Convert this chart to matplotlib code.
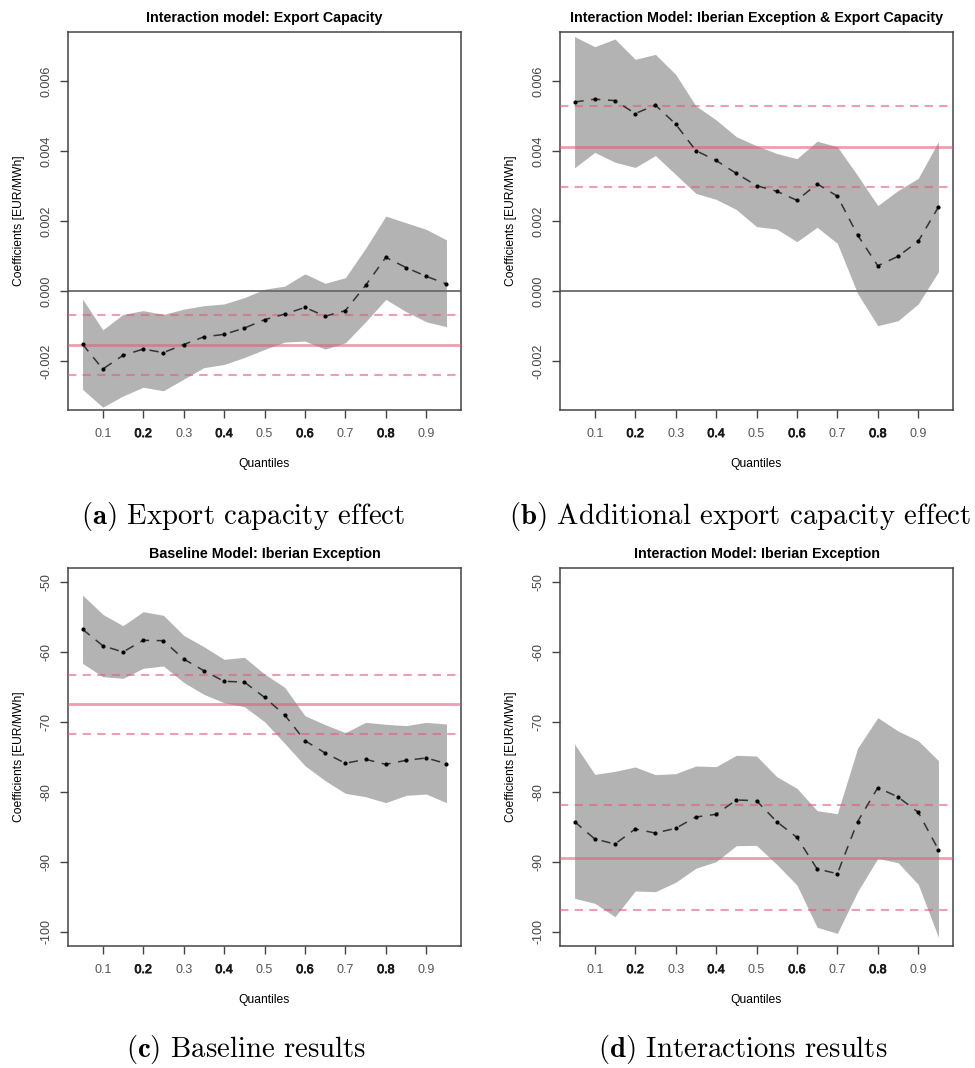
import numpy as np
import matplotlib
matplotlib.use("Agg")
import matplotlib.pyplot as plt
import matplotlib.patheffects as pe

plt.rcParams['font.family'] = ['Liberation Sans', 'DejaVu Sans']
plt.rcParams['axes.unicode_minus'] = False
plt.rcParams['mathtext.fontset'] = 'cm'

quantiles = [0.05, 0.10, 0.15, 0.20, 0.25, 0.30, 0.35, 0.40, 0.45, 0.50,
             0.55, 0.60, 0.65, 0.70, 0.75, 0.80, 0.85, 0.90, 0.95]

# (a) export capacity, interaction model
export_coef = [-0.00152, -0.00223, -0.00184, -0.00166, -0.00176, -0.00153, -0.00131, -0.00124, -0.00106, -0.00082,
               -0.00066, -0.00047, -0.00072, -0.00056, 0.00016, 0.00096, 0.00067, 0.00042, 0.00020]
export_hi = [-0.00023, -0.00111, -0.00067, -0.00056, -0.00067, -0.00052, -0.00042, -0.00037, -0.00019, 0.00005,
             0.00014, 0.00049, 0.00022, 0.00038, 0.00122, 0.00214, 0.00195, 0.00176, 0.00146]
export_lo = [-0.00281, -0.00332, -0.00300, -0.00275, -0.00285, -0.00252, -0.00219, -0.00210, -0.00190, -0.00167,
             -0.00146, -0.00143, -0.00166, -0.00148, -0.00088, -0.00024, -0.00059, -0.00088, -0.00102]
export_ols = [-0.00154, -0.00069, -0.00240]  # estimate, upper, lower

# (b) iberian exception x export capacity
inter_coef = [0.00540, 0.00548, 0.00544, 0.00507, 0.00531, 0.00477, 0.00401, 0.00373, 0.00336, 0.00301,
              0.00285, 0.00259, 0.00306, 0.00271, 0.00160, 0.00072, 0.00099, 0.00142, 0.00240]
inter_hi = [0.00727, 0.00698, 0.00720, 0.00662, 0.00676, 0.00619, 0.00529, 0.00489, 0.00441, 0.00415,
            0.00393, 0.00378, 0.00428, 0.00412, 0.00330, 0.00244, 0.00287, 0.00322, 0.00427]
inter_lo = [0.00352, 0.00396, 0.00368, 0.00353, 0.00387, 0.00333, 0.00279, 0.00262, 0.00233, 0.00184,
            0.00177, 0.00141, 0.00182, 0.00136, -0.00007, -0.00099, -0.00085, -0.00037, 0.00055]
inter_ols = [0.00412, 0.00529, 0.00296]

# (c) iberian exception, baseline model
base_coef = [-56.76, -59.10, -60.00, -58.33, -58.38, -61.00, -62.67, -64.19, -64.29, -66.48,
             -69.00, -72.67, -74.43, -75.90, -75.33, -76.05, -75.48, -75.14, -75.95]
base_hi = [-51.86, -54.62, -56.24, -54.24, -54.76, -57.62, -59.24, -61.05, -60.76, -63.14,
           -65.05, -69.10, -70.38, -71.52, -70.05, -70.33, -70.52, -70.05, -70.29]
base_lo = [-61.62, -63.52, -63.76, -62.33, -62.00, -64.33, -66.05, -67.24, -67.81, -69.95,
           -73.05, -76.24, -78.38, -80.19, -80.67, -81.52, -80.48, -80.29, -81.52]
base_ols = [-67.48, -63.24, -71.71]

# (d) iberian exception, interaction model
iber_coef = [-84.24, -86.71, -87.43, -85.29, -85.86, -85.19, -83.57, -83.19, -81.14, -81.24,
             -84.24, -86.48, -91.00, -91.67, -84.24, -79.38, -80.71, -82.90, -88.24]
iber_hi = [-73.14, -77.48, -77.05, -76.43, -77.52, -77.38, -76.29, -76.38, -74.76, -74.86,
           -77.81, -79.48, -82.67, -83.10, -73.76, -69.38, -71.29, -72.67, -75.52]
iber_lo = [-95.19, -95.90, -97.81, -94.14, -94.24, -92.90, -90.90, -89.95, -87.67, -87.62,
           -90.33, -93.29, -99.33, -100.19, -94.24, -89.48, -90.10, -93.19, -100.76]
iber_ols = [-89.38, -81.90, -96.86]

x_ticks = [0.1, 0.2, 0.3, 0.4, 0.5, 0.6, 0.7, 0.8, 0.9]
small_ticks = [-0.002, 0.000, 0.002, 0.004, 0.006]
big_ticks = [-100, -90, -80, -70, -60, -50]

W, H = 975, 1068
fig = plt.figure(figsize=(W / 100, H / 100), dpi=100)


def make_ax(left, top, right, bottom):
    return fig.add_axes([left / W, 1 - bottom / H, (right - left) / W, (bottom - top) / H])


def qr_panel(ax, title, coef, lo, hi, ols, ylim, yticks, fmt, zero_line):
    ax.fill_between(quantiles, lo, hi, color='#b3b3b3', lw=0, zorder=1)
    if zero_line:
        ax.axhline(0, color='#6a6a6a', lw=1.3, zorder=2)
    ax.axhline(ols[0], color='#e0607a', alpha=0.6, lw=2.0, zorder=3)
    for v in ols[1:]:
        ax.axhline(v, color='#e0607a', alpha=0.6, lw=1.5, ls=(0, (4, 3)), zorder=3)
    ax.plot(quantiles, coef, color='#333333', lw=1.1, ls=(0, (6, 5)), zorder=4)
    ax.plot(quantiles, coef, 'o', color='black', ms=2.0, zorder=5)

    ax.set_xlim(0.014, 0.986)
    ax.set_ylim(*ylim)
    ax.set_xticks(x_ticks)
    ax.set_xticklabels([f'{t:.1f}' for t in x_ticks])
    ax.set_yticks(yticks)
    ax.set_yticklabels([fmt.format(t) for t in yticks], rotation=90, va='center')
    for i, lab in enumerate(ax.get_xticklabels()):
        if i % 2 == 1:
            lab.set_color('#1a1a1a')
            lab.set_path_effects([pe.withStroke(linewidth=0.6, foreground='#1a1a1a')])
        else:
            lab.set_color('#555555')
    for lab in ax.get_yticklabels():
        lab.set_color('#444444')
    ax.tick_params(axis='x', length=6, width=1, color='#444444', labelsize=9, pad=7)
    ax.tick_params(axis='y', length=6, width=1, color='#444444', labelsize=9, pad=5)
    for s in ax.spines.values():
        s.set_color('#444444')
        s.set_linewidth(1.1)
    ax.set_title(title, fontsize=10.3, fontweight='bold', pad=7)
    ax.set_xlabel('Quantiles', fontsize=8.7, labelpad=13)
    ax.set_ylabel('Coefficients [EUR/MWh]', fontsize=8.7, labelpad=11)


small_lim = (-0.0034, 0.0074)
big_lim = (-102, -48)

ax_a = make_ax(68, 32, 461, 410)
qr_panel(ax_a, 'Interaction model: Export Capacity', export_coef, export_lo, export_hi,
         export_ols, small_lim, small_ticks, '{:.3f}', True)
ax_b = make_ax(560, 32, 953, 410)
qr_panel(ax_b, 'Interaction Model: Iberian Exception & Export Capacity', inter_coef, inter_lo, inter_hi,
         inter_ols, small_lim, small_ticks, '{:.3f}', True)
ax_c = make_ax(68, 568, 461, 946)
qr_panel(ax_c, 'Baseline Model: Iberian Exception', base_coef, base_lo, base_hi,
         base_ols, big_lim, big_ticks, '{:d}', False)
ax_d = make_ax(560, 568, 953, 946)
qr_panel(ax_d, 'Interaction Model: Iberian Exception', iber_coef, iber_lo, iber_hi,
         iber_ols, big_lim, big_ticks, '{:d}', False)

# sub-figure captions
captions = [
    (243, 516, r'$\mathbf{(a)}$ Export capacity effect'),
    (740, 516, r'$\mathbf{(b)}$ Additional export capacity effect'),
    (246, 1049, r'$\mathbf{(c)}$ Baseline results'),
    (743, 1049, r'$\mathbf{(d)}$ Interactions results'),
]
for cx, cy, txt in captions:
    fig.text(cx / W, 1 - cy / H, txt, ha='center', va='center', fontsize=20.7, family='cmr10')

fig.savefig('out.png', dpi=100, facecolor='white')
